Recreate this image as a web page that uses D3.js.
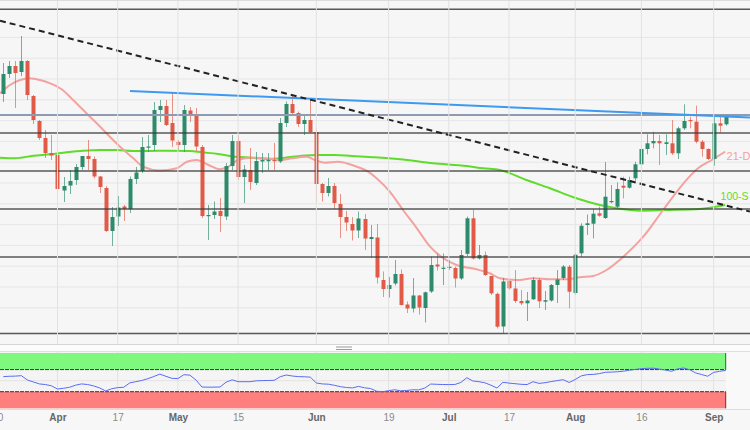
<!DOCTYPE html>
<html><head><meta charset="utf-8">
<script src="https://cdn.jsdelivr.net/npm/d3@7"></script>
<style>
html,body{margin:0;padding:0;background:#f7f7f7;}
svg{display:block;font-family:"Liberation Sans",Arial,sans-serif;}
</style></head><body>
<svg id="c" width="750" height="430"></svg>
<script>
// ---- Daily candles (price units) ----
const open = [249,269,277,271,282,247,222,205,190,188,
152.5,157.5,163,176,187,184,166.5,155,112,126.5,
136.5,134,164,172,195.5,198,233,237,220,201,
198,232.5,228,196,127,128,132,126.5,177,202,
166,173,160,181.5,182,183,181.5,220,239,230,
219,223,211,159,150,157,139,126,119,112.5,
124,104,105.5,63,54,59.5,69,38.5,34.5,47.5,
35,51.5,78.5,74.5,75,75,64.5,89.2,124.7,84.5,
88,67,49.2,16.5,62,54.5,42,39.7,43.7,63,
41.3,42.5,58,65,76.3,50,89.7,118,119.3,129.7,
125,141.3,136.3,157.3,155.3,164.7,178.7,194,199.7,202,
199,199.7,189.7,214.7,223,221.3,201.3,194,184,219.7,
218.7];
const close = [269,277,270,282,248,223,205,190,187.5,154,
157,162,176,187,184,166.5,156,112,126,135.5,
134,164,170.5,196,196.5,233,237,218,202.5,198,
233,228,196.5,127,128,131.5,127,177,202,166,
173.5,161,182,183,183,182,220,239,230,219,
223,211,159,150,157,140,126,120.5,112.5,124.5,
104.5,106,65.5,54,58,69,38,34.5,47.5,35.5,
50.7,78,76.5,75.3,76.2,64.5,88,124.7,84.5,88,
68,49.7,16.3,61.5,54.7,42,39.7,42.5,63,41.7,
42.8,58,63.5,76.5,51.3,88.3,117.2,119.7,129.3,127.3,
146.3,142,154,155.3,163,178.7,194,199.7,202,199.7,
200.7,189.7,214.7,222,222,201.3,194,184,219.7,217.3,
227.3];
const high = [280,282,282,307,283,248,223,213,208,188,
166,173,179,187,203,186.5,167,157,136,147,
138,166.5,176,206,208,241,243,243,250,203,
238,236,235,198,138,141.5,145,180,208,208,
178,195,191,190,190,200,225,241.5,247,231.5,
227,245,215,160,165,160,149,132,126,131.5,
129,118,119,71.5,66,83,73.5,41.5,65,48,
51.5,86.5,89.5,89.5,83,76.5,93,126.5,133.5,98,
91.5,67,50.5,65,63.5,73,53,51,65.7,65,
52,59,73,78,78,89.7,119.7,128.5,134,136.3,
181,158,160.7,166.3,166.3,181.3,198,208.7,211.3,208,
208.7,223,216.3,238.7,226.3,237.3,203,194.7,227.3,227.3,
228];
const low = [241,265,235,267,243,219,203,185,183,143,
141,149,158,173,173,164.5,150,111,97,117,
122,130,159,170,191,192,221,217,196,193,
191,221,192,125,103,124,111,123,173,163,
140,153,158,170,173,173,180,216,227,216,
208,210,141,141.5,146.5,134,105,112,102.5,105,
93,85,59.5,46,45.5,57.5,37.5,30,30.5,28.5,
20.5,50,72.5,58,73,55.5,63,87,83.5,83.5,
67,48,14.7,9.7,53,40,38,22,43,35,
33,41.3,40,63,34.7,48,86,108,104.7,126.3,
124,139.7,134.7,144.7,154.3,162,174.7,188.7,194.7,178,
188,188,184,213,214.7,199.7,186.3,183,177.3,210.7,
217.3];

// ---- RSI (0-100) per candle ----
const rsi = [57.3,57.9,58.2,59.0,51.2,47.6,44.1,42.9,40.7,34.9,
36.2,38.0,41.8,44.1,43.0,40.5,36.9,31.3,35.3,37.4,
38.0,45.9,48.1,50.3,53.5,57.5,61.8,57.9,54.2,53.7,
60.8,59.9,51.2,38.5,38.2,38.3,38.5,47.2,51.5,48.1,
48.1,48.1,49.7,50.1,50.3,50.6,57.1,60.2,58.4,57.3,
57.0,56.4,45.8,44.1,43.6,41.6,39.1,37.6,36.9,39.6,
37.1,35.8,30.9,30.0,31.8,33.6,31.6,32.2,33.5,33.3,
36.5,43.9,43.4,43.0,42.9,43.0,46.7,55.3,49.4,48.1,
46.1,41.8,36.7,47.0,45.6,44.5,43.4,42.9,48.1,45.0,
46.3,48.3,50.1,51.7,46.7,52.1,58.6,60.9,61.3,62.7,
65.1,65.5,66.0,67.1,68.9,70.3,71.8,72.3,72.5,70.9,
69.1,66.9,71.2,72.9,69.8,64.0,61.1,58.0,64.9,66.9,
68.5];

// ---- Moving averages (candle position, level) ----
const sma21Idx = [-0.55,1.1,2.8,4.4,6.1,7.8,9.7,11.6,14.1,16.1,17.7,19.4,21.6,23.2,26,28.8,30.5,32.1,34.1,36,37.4,39,41.3,43.5,46.2,47.9,50.4,51.8,53.4,55.6,58.4,60.6,62,64.2,66.4,68.7,70.9,73.1,75.3,78.6,80.8,82.5,85.3,88.1,90.8,93.6,95.8,98,100.2,103,106.3,109.6,113,115.4,117.7,119.9];
const sma21Val = [249.7,258,263,264.7,263,259.7,253.7,243,228,216.3,206.3,196.3,184.7,176.3,172.5,174.7,181.3,183,178,173.7,176.3,183,185.3,184.7,183,184.7,186.3,183,180.3,181.3,177,171.3,164.7,151.3,133,114.7,96.3,84.7,78,73.7,69.7,64.7,63,64.7,63.7,63.7,65.7,67,73,86.3,106.3,133,159.7,174.7,183,191.3];
const sma100Idx = [-0.55,1.9,5,7.8,10.5,13.3,16.1,18.8,21.6,24.4,27.1,31,33,35.7,38.5,41.3,44,46.8,49.6,52.3,55.1,57.9,61.7,65.9,71.4,77,79.7,82.5,86.9,90.8,95.2,99.1,101.9,105.8,110.2,115.7,119.9];
const sma100Val = [185.3,184.7,187.3,188.7,190.7,192.3,193,193,192,192,192.3,192,190.7,189,186.3,185.3,184,185.3,187.3,188,188,187,185.7,183.7,179.7,177,174.7,173,163,154.7,144.7,138,134.7,132.3,133,134,138];
const maLabels = ["21-D","100-S"];

// ---- Drawn lines ----
const resistLevels = [333.7,210,172,134,86,9.5];
const keyLevel = [228];
const gridLevels = [35.2,56,76.8,97.6,118.4,139.2,160,180.8,201.6,222.4,243.2,264,284.8,305.6];
const blueTrend = [[21.05,252],[124.03,225.5]];
const dashTrend = [[-0.55,322.3],[124.03,131.4]];

// ---- X axis ticks ----
const tickIdx = [-1,9,19,29,39,52,64,74,84,95,106,118];
const tickLabels = ["20","Apr","17","May","15","Jun","19","Jul","17","Aug","16","Sep"];

// ================= drawing =================
const W = 750, H = 430;
const mainBot = 344, rsiTop = 352, rsiBot = 409;
const svg = d3.select("#c");
const x = d3.scaleLinear().domain([0,120]).range([3.3,725.7]);
const y = d3.scaleLinear().domain([0,343]).range([343,0]);
const ry = d3.scaleLinear().domain([0,100]).range([408.3,353]);

svg.append("rect").attr("width",W).attr("height",H).attr("fill","#f7f7f7");
svg.append("rect").attr("width",W).attr("height",mainBot).attr("fill","#f6f6f6");
svg.append("rect").attr("y",mainBot).attr("width",W).attr("height",rsiTop-mainBot).attr("fill","#fcfcfc");
svg.append("rect").attr("y",rsiTop).attr("width",W).attr("height",rsiBot-rsiTop).attr("fill","#f9f9f9");
svg.append("rect").attr("y",rsiTop).attr("width",x(120)).attr("height",rsiBot-rsiTop).attr("fill","#f4f4f4");

const defs = svg.append("defs");
defs.append("clipPath").attr("id","mainClip").append("rect").attr("width",W).attr("height",mainBot);

const main = svg.append("g").attr("clip-path","url(#mainClip)");

// grid
main.selectAll(".hg").data(gridLevels).join("line")
  .attr("x1",0).attr("x2",W).attr("y1",d=>y(d)).attr("y2",d=>y(d))
  .attr("stroke","#e6e6e6").attr("stroke-width",1);
svg.selectAll(".vg").data(tickIdx).join("line")
  .attr("x1",d=>x(d)).attr("x2",d=>x(d)).attr("y1",0).attr("y2",mainBot)
  .attr("stroke","#e2e2e2").attr("stroke-width",1);

// frame lines
svg.append("line").attr("x1",0).attr("x2",W).attr("y1",0.5).attr("y2",0.5).attr("stroke","#dcdcdc");
svg.append("line").attr("x1",0).attr("x2",W).attr("y1",mainBot+0.5).attr("y2",mainBot+0.5).attr("stroke","#d6d6d6");

// moving averages
const maLine = d3.line().curve(d3.curveMonotoneX);
const sma21Pts = sma21Idx.map((d,i)=>[x(d),y(sma21Val[i])]);
const sma100Pts = sma100Idx.map((d,i)=>[x(d),y(sma100Val[i])]);
main.append("path").attr("d",maLine(sma100Pts)).attr("fill","none").attr("stroke","#5fdc2a").attr("stroke-width",2);
main.append("path").attr("d",maLine(sma21Pts)).attr("fill","none").attr("stroke","#f2a3a0").attr("stroke-width",2);

// candles
const up = "#2d8a6b", dn = "#e05a47";
const cg = main.append("g");
const candles = cg.selectAll("g").data(open.map((o,i)=>({i,o,c:close[i],h:high[i],l:low[i]}))).join("g");
candles.append("line")
  .attr("x1",d=>Math.round(x(d.i))+0.5).attr("x2",d=>Math.round(x(d.i))+0.5)
  .attr("y1",d=>y(d.h)).attr("y2",d=>y(d.l))
  .attr("stroke",d=>d.c>=d.o?up:dn).attr("stroke-opacity",0.65).attr("stroke-width",1);
candles.append("rect")
  .attr("x",d=>Math.round(x(d.i))-1.5).attr("width",4)
  .attr("y",d=>y(Math.max(d.o,d.c)))
  .attr("height",d=>Math.max(1.2,Math.abs(y(d.o)-y(d.c))))
  .attr("fill",d=>d.c>=d.o?up:dn);

// horizontal levels
main.selectAll(".lv").data(resistLevels).join("line")
  .attr("x1",0).attr("x2",W).attr("y1",d=>y(d)).attr("y2",d=>y(d))
  .attr("stroke","#3c3c3c").attr("stroke-opacity",0.85).attr("stroke-width",1.4);
main.selectAll(".kl").data(keyLevel).join("line")
  .attr("x1",0).attr("x2",W).attr("y1",d=>y(d)).attr("y2",d=>y(d))
  .attr("stroke","#8f9bb0").attr("stroke-width",2);

// trend lines
const tl = d3.line().x(d=>x(d[0])).y(d=>y(d[1]));
main.append("path").attr("d",tl(blueTrend)).attr("fill","none").attr("stroke","#3d9af0").attr("stroke-width",2);
main.append("path").attr("d",tl(dashTrend)).attr("fill","none").attr("stroke","#222").attr("stroke-width",2).attr("stroke-dasharray","6,4");

// MA labels (to the right of each curve's last point)
main.append("text").attr("x",x(sma21Idx[sma21Idx.length-1])+1.5).attr("y",y(sma21Val[sma21Val.length-1])+8.5)
  .text(maLabels[0]).attr("fill","#f2a3a0").attr("font-size",11);
main.append("text").attr("x",x(sma100Idx[sma100Idx.length-1])-4.5).attr("y",y(sma100Val[sma100Val.length-1])-5)
  .text(maLabels[1]).attr("fill","#5fdc2a").attr("font-size",10.5);

// panel handle
[347,349.5].forEach(v=>svg.append("line").attr("x1",336).attr("x2",352).attr("y1",v).attr("y2",v).attr("stroke","#9a9a9a"));

// ---- RSI panel ----
svg.selectAll(".vg2").data(tickIdx).join("line")
  .attr("x1",d=>x(d)).attr("x2",d=>x(d)).attr("y1",rsiTop).attr("y2",rsiBot)
  .attr("stroke","#e2e2e2");
svg.append("line").attr("x1",0).attr("x2",x(120)).attr("y1",ry(50)).attr("y2",ry(50)).attr("stroke","#e4e4e4");
svg.append("rect").attr("x",0).attr("y",ry(100)).attr("width",x(120)).attr("height",ry(70)-ry(100)).attr("fill","#7ef97e");
svg.append("rect").attr("x",0).attr("y",ry(30)).attr("width",x(120)).attr("height",ry(0)-ry(30)).attr("fill","#ff7e7e");
svg.append("line").attr("x1",x(120)).attr("x2",x(120)).attr("y1",ry(100)).attr("y2",ry(70)).attr("stroke","#2a6a2a");
svg.append("line").attr("x1",x(120)).attr("x2",x(120)).attr("y1",ry(30)).attr("y2",ry(0)).attr("stroke","#7a2a2a");
[70,30].forEach(v=>svg.append("line").attr("x1",0).attr("x2",x(120)).attr("y1",ry(v)).attr("y2",ry(v))
  .attr("stroke","#333").attr("stroke-width",1).attr("stroke-dasharray","4,1"));
svg.append("line").attr("x1",0).attr("x2",W).attr("y1",rsiTop-0.5).attr("y2",rsiTop-0.5).attr("stroke","#e0e0e0");
svg.append("line").attr("x1",0).attr("x2",W).attr("y1",rsiBot+0.5).attr("y2",rsiBot+0.5).attr("stroke","#dedede");

const rl = d3.line().x((d,i)=>x(i)).y(d=>ry(d));
svg.append("path").attr("d",rl(rsi)).attr("fill","none").attr("stroke","#5a6cf5").attr("stroke-width",1);

// ---- X axis ----
const xAxis = d3.axisBottom(x).tickValues(tickIdx).tickFormat((d,i)=>tickLabels[i]).tickSize(0).tickPadding(4);
const gx = svg.append("g").attr("transform",`translate(0,${rsiBot+1})`).call(xAxis);
gx.select(".domain").remove();
gx.selectAll("text")
  .attr("font-family","'Liberation Sans',Arial,sans-serif")
  .attr("font-size",10)
  .attr("font-weight",(d,i)=>isNaN(+tickLabels[i])?"bold":"normal")
  .attr("fill",(d,i)=>isNaN(+tickLabels[i])?"#666":"#8a8a8a");
</script>
</body></html>
